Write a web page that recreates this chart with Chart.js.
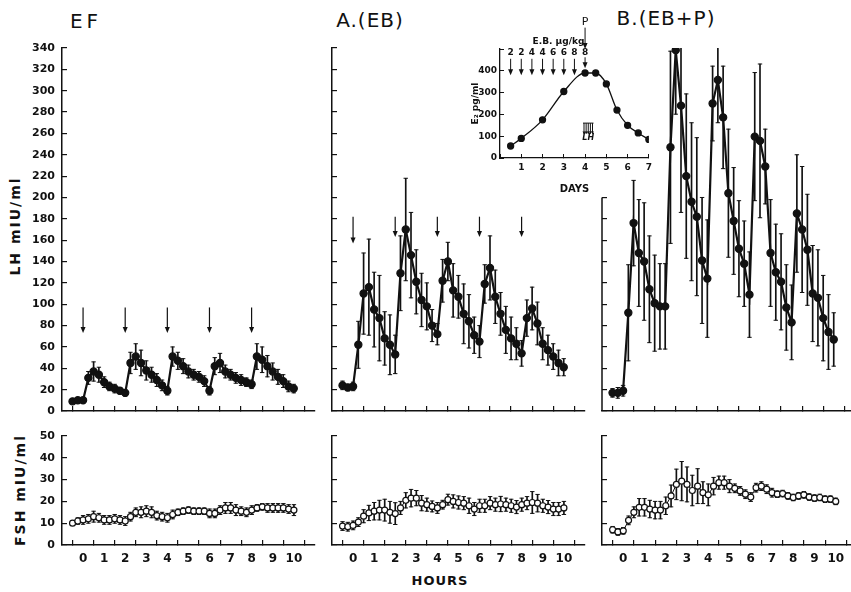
<!DOCTYPE html>
<html>
<head>
<meta charset="utf-8">
<script src="https://cdn.jsdelivr.net/npm/chart.js@4/dist/chart.umd.min.js"></script>
<style>
  body { margin: 0; width: 851px; height: 592px; overflow: hidden; background: #fff; position: relative; font-family: "DejaVu Sans", sans-serif; color: #111; }
  canvas { position: absolute; }
  .lbl { position: absolute; white-space: nowrap; transform: translate(-50%, -50%); }
  .title { font-size: 20px; letter-spacing: 1px; }
  .ylab { font-size: 14px; font-weight: bold; letter-spacing: 2px; transform: translate(-50%, -50%) rotate(-90deg); }
</style>
</head>
<body>
<div class="lbl title" style="left:86px;top:21px;letter-spacing:4px">EF</div>
<div class="lbl title" style="left:370px;top:20px">A.(EB)</div>
<div class="lbl title" style="left:666px;top:18px">B.(EB+P)</div>
<div class="lbl ylab" style="left:15px;top:226px">LH mIU/ml</div>
<div class="lbl ylab" style="left:20px;top:490px">FSH mIU/ml</div>
<div class="lbl" style="left:440px;top:580px;font-size:13px;font-weight:bold;letter-spacing:1px">HOURS</div>

<canvas id="lhEF" width="320" height="403" style="left:0px;top:28px"></canvas>
<canvas id="lhEB" width="270" height="403" style="left:320px;top:28px"></canvas>
<canvas id="lhEBP" width="270" height="403" style="left:590px;top:28px"></canvas>
<canvas id="fshEF" width="327" height="161" style="left:0px;top:416px"></canvas>
<canvas id="fshEB" width="277" height="161" style="left:320px;top:416px"></canvas>
<canvas id="fshEBP" width="279" height="161" style="left:590px;top:416px"></canvas>
<canvas id="inset" width="190" height="185" style="left:470px;top:10px"></canvas>

<script>
// sampling times (hours)
const hours = [-0.5, -0.25, 0, 0.25, 0.5, 0.75, 1, 1.25, 1.5, 1.75, 2, 2.25, 2.5, 2.75, 3, 3.25, 3.5, 3.75, 4,
  4.25, 4.5, 4.75, 5, 5.25, 5.5, 5.75, 6, 6.25, 6.5, 6.75, 7, 7.25, 7.5, 7.75, 8,
  8.25, 8.5, 8.75, 9, 9.25, 9.5, 9.75, 10];

// LH (mIU/ml)
const efLH = [9, 10, 10, 31, 37, 34, 27, 23, 21, 19, 17, 45, 51, 45, 38, 34, 29, 24, 19,
  51, 47, 42, 37, 34, 32, 28, 19, 42, 45, 37, 34, 31, 29, 27, 25, 51, 48, 42, 37, 32, 28, 23, 21];
const efLHsem = [2, 2, 2, 6, 9, 7, 5, 4, 4, 3, 3, 10, 12, 12, 9, 7, 6, 5, 4,
  9, 8, 7, 6, 5, 5, 5, 4, 8, 9, 6, 5, 5, 5, 4, 4, 12, 12, 10, 8, 7, 6, 5, 4];

const ebLH = [24, 22, 23, 62, 110, 116, 95, 87, 68, 62, 53, 129, 170, 146, 121, 104, 98, 80, 72,
  122, 140, 113, 107, 91, 84, 71, 65, 119, 134, 107, 91, 76, 68, 63, 54, 87, 96, 82, 63, 57, 51, 45, 41];
const ebLHsem = [4, 3, 4, 22, 38, 45, 35, 40, 25, 28, 18, 35, 48, 40, 30, 25, 22, 15, 10,
  20, 18, 25, 20, 28, 25, 17, 15, 18, 30, 25, 20, 22, 20, 15, 12, 17, 20, 20, 15, 14, 12, 12, 8];

const ebpLH = [17, 17, 19, 92, 176, 148, 140, 114, 101, 98, 98, 247, 338, 286, 220, 196, 182, 141, 124,
  288, 310, 275, 204, 178, 152, 138, 109, 257, 253, 229, 148, 130, 121, 97, 83, 185, 170, 151, 110, 106, 87, 74, 67];
const ebpLHsem = [4, 5, 5, 45, 40, 50, 55, 50, 45, 40, 40, 90, 60, 100, 77, 74, 74, 59, 55,
  35, 40, 48, 60, 50, 45, 40, 40, 60, 72, 35, 50, 45, 45, 40, 35, 55, 59, 52, 45, 45, 40, 35, 25];

// FSH (mIU/ml)
const efFSH = [10, 11, 11.5, 12, 13, 12.5, 11.5, 11.5, 12, 11.5, 11, 13, 15, 15, 15.5, 15, 13.5, 13, 12.5,
  14, 15, 15.5, 16, 15.5, 15.5, 15.5, 14.5, 14.5, 16, 17, 17, 16, 15.5, 15, 16, 17, 17.5, 17, 17, 17, 17, 16.5, 16];
const efFSHsem = [1, 1.5, 2, 2, 2.5, 2, 2, 2, 2, 2, 2, 2, 2, 2.5, 2.5, 2.5, 2, 2, 2,
  2, 1.5, 1.5, 1.5, 1.5, 1.5, 1.5, 2, 2, 2, 2.5, 2.5, 2.5, 2, 2, 2, 1.5, 1.5, 2, 2, 2, 2, 2, 2.5];

const ebFSH = [8.7, 8.4, 9, 10.5, 13.2, 14.7, 15.5, 16, 16, 15, 14.4, 17, 20.5, 21.5, 21.5, 19.2, 18.5, 17.7, 17,
  18.5, 20.8, 20, 19.5, 19.2, 18, 16.5, 18, 18, 19.2, 18.5, 18.8, 18.5, 18, 17.4, 18.5, 19.2, 19.5, 19.2, 18, 17.4, 16.5, 16.5, 17];
const ebFSHsem = [2, 2, 2, 2, 3, 3.5, 4, 4.5, 5, 5, 5, 3, 3.5, 4, 3.5, 3.5, 3, 2.5, 2.5,
  2, 2.5, 3, 3, 3, 3.5, 3, 3, 3, 3, 3, 3.5, 3, 3, 3, 3, 3, 5, 4, 3, 3, 3, 3, 3];

const ebpFSH = [7, 6, 6.5, 11.3, 15, 17.3, 17.3, 16.5, 16, 16, 18, 22.5, 27.8, 29.3, 27.8, 25, 27, 24, 23,
  27, 28.6, 28.6, 27, 26, 24.8, 23.3, 22, 26.3, 27, 25.6, 24, 23.3, 23.6, 22.5, 21.8, 22.5, 23, 22, 21.5, 21.8, 21, 21, 20];
const ebpFSHsem = [1.5, 1.5, 1.5, 2, 2.5, 4, 4, 4, 4, 4, 4, 5, 7, 9, 8, 7, 8, 5, 5,
  4, 3, 3, 3, 2, 2, 2, 2, 2, 2, 2, 2, 1.5, 1.5, 1.5, 1.5, 1.5, 1.5, 1.5, 1.5, 1.5, 1.5, 1.5, 1.5];

// injection times (hours)
const efPulseHours = [0, 2, 4, 6, 8];
const ebPulseHours = [0, 2, 4, 6, 8];

// inset: plasma E2 (pg/ml) over days
const e2Days = [0.5, 1, 2, 3, 4, 4.5, 5, 5.5, 6, 6.5, 7];
const e2Values = [55, 90, 175, 305, 390, 390, 340, 220, 150, 115, 85];
const doseDays = [0.5, 1, 1.5, 2, 2.5, 3, 3.5, 4];
const doseLabels = ["2", "2", "4", "4", "6", "6", "8", "8"];
const lhSurgeDays = [3.95, 4.05, 4.15, 4.25, 4.35];

const INK = "#111";
Chart.defaults.font.family = "'DejaVu Sans', sans-serif";
Chart.defaults.font.size = 11;
Chart.defaults.font.weight = "bold";
Chart.defaults.color = INK;

function drawArrow(ctx, x, yTop, yTip) {
  ctx.beginPath();
  ctx.moveTo(x, yTop);
  ctx.lineTo(x, yTip - 4);
  ctx.stroke();
  ctx.beginPath();
  ctx.moveTo(x - 2.5, yTip - 6);
  ctx.lineTo(x + 2.5, yTip - 6);
  ctx.lineTo(x, yTip);
  ctx.closePath();
  ctx.fill();
}

// arrows marking each injection
function pulseArrows(list) {
  return {
    id: "pulseArrows",
    afterDatasetsDraw(chart) {
      const { ctx, scales } = chart;
      ctx.save();
      ctx.strokeStyle = INK;
      ctx.fillStyle = INK;
      ctx.lineWidth = 1.2;
      list.forEach((a) => {
        drawArrow(ctx, scales.x.getPixelForValue(a.x), scales.y.getPixelForValue(a.from), scales.y.getPixelForValue(a.to));
      });
      ctx.restore();
    },
  };
}

// y axis line only drawn over the lower part (panel B)
function shortAxis(topValue) {
  return {
    id: "shortAxis",
    afterDraw(chart) {
      const { ctx, scales, chartArea } = chart;
      ctx.save();
      ctx.strokeStyle = INK;
      ctx.lineWidth = 1.5;
      ctx.beginPath();
      ctx.moveTo(chartArea.left, scales.y.getPixelForValue(0));
      ctx.lineTo(chartArea.left, scales.y.getPixelForValue(topValue));
      ctx.stroke();
      ctx.restore();
    },
  };
}

function panel(id, cfg) {
  const line = hours.map((h, i) => ({ x: h, y: cfg.values[i] }));
  const stems = hours.map((h, i) => ({ x: h, y: [cfg.values[i] - cfg.sem[i], cfg.values[i] + cfg.sem[i]] }));
  const caps = [];
  hours.forEach((h, i) => {
    caps.push({ x: h, y: cfg.values[i] + cfg.sem[i] });
    caps.push({ x: h, y: cfg.values[i] - cfg.sem[i] });
  });

  new Chart(document.getElementById(id), {
    type: "line",
    data: {
      datasets: [
        {
          type: "line",
          data: line,
          borderColor: INK,
          borderWidth: cfg.lineWidth,
          pointRadius: cfg.pointRadius,
          pointBackgroundColor: cfg.open ? "#fff" : INK,
          pointBorderColor: INK,
          pointBorderWidth: 1.2,
          order: 0,
        },
        {
          type: "line",
          data: caps,
          showLine: false,
          pointStyle: "line",
          pointRadius: 2.2,
          pointBorderColor: INK,
          pointBorderWidth: 1,
          order: 1,
        },
        {
          type: "bar",
          data: stems,
          backgroundColor: INK,
          barThickness: 1,
          grouped: false,
          order: 2,
        },
      ],
    },
    options: {
      responsive: false,
      animation: false,
      events: [],
      layout: { padding: { top: 20, right: cfg.padRight, left: 0, bottom: 0 } },
      plugins: { legend: { display: false }, tooltip: { enabled: false } },
      scales: {
        x: {
          type: "linear",
          min: -1,
          max: 11,
          offset: false,
          ticks: {
            stepSize: 1,
            display: cfg.xLabels,
            autoSkip: false,
            maxRotation: 0,
            minRotation: 0,
            padding: 12,
            font: { size: 12 },
            callback: (v) => (v < 0 || v > 10 ? "" : v),
          },
          grid: { drawOnChartArea: false, tickLength: -5, color: INK, lineWidth: 1.2 },
          border: { color: INK, width: 1.5 },
          afterFit: (s) => { s.height = cfg.xHeight; },
        },
        y: {
          min: 0,
          max: cfg.yMax,
          ticks: { stepSize: cfg.yStep, display: cfg.yLabels, padding: 12 },
          grid: {
            drawOnChartArea: false,
            tickLength: -5,
            lineWidth: 1.2,
            color: (c) => (cfg.axisTop === undefined || c.tick.value <= cfg.axisTop ? INK : "rgba(0,0,0,0)"),
          },
          border: { display: cfg.axisTop === undefined, color: INK, width: 1.5 },
          afterFit: (s) => { s.width = cfg.yWidth; },
        },
      },
    },
    plugins: [pulseArrows(cfg.arrows || [])].concat(cfg.axisTop !== undefined ? [shortAxis(cfg.axisTop)] : []),
  });
}

const lhBase = { yMax: 340, yStep: 20, lineWidth: 2.2, pointRadius: 3.6, open: false, xHeight: 20, xLabels: false };
const fshBase = { yMax: 50, yStep: 10, lineWidth: 1, pointRadius: 3, open: true, xHeight: 32, xLabels: true, padRight: 12 };

panel("lhEF", Object.assign({}, lhBase, {
  values: efLH, sem: efLHsem, yLabels: true, yWidth: 62, padRight: 5,
  arrows: efPulseHours.map((h) => ({ x: h, from: 97, to: 73 })),
}));
panel("lhEB", Object.assign({}, lhBase, {
  values: ebLH, sem: ebLHsem, yLabels: false, yWidth: 12, padRight: 5,
  arrows: ebPulseHours.map((h, i) => ({ x: h, from: 182, to: i === 0 ? 157 : 163 })),
}));
panel("lhEBP", Object.assign({}, lhBase, {
  values: ebpLH, sem: ebpLHsem, yLabels: false, yWidth: 12, padRight: 3, axisTop: 200,
}));
panel("fshEF", Object.assign({}, fshBase, { values: efFSH, sem: efFSHsem, yLabels: true, yWidth: 62 }));
panel("fshEB", Object.assign({}, fshBase, { values: ebFSH, sem: ebFSHsem, yLabels: false, yWidth: 12 }));
panel("fshEBP", Object.assign({}, fshBase, { values: ebpFSH, sem: ebpFSHsem, yLabels: false, yWidth: 12 }));

// inset annotations: dose arrows, progesterone, LH surge
const insetNotes = {
  id: "insetNotes",
  afterDatasetsDraw(chart) {
    const { ctx, scales: { x, y } } = chart;
    ctx.save();
    ctx.strokeStyle = INK;
    ctx.fillStyle = INK;
    ctx.lineWidth = 1;
    ctx.textAlign = "center";
    ctx.textBaseline = "middle";
    ctx.font = "bold 9px 'DejaVu Sans'";
    doseDays.forEach((d, i) => {
      const px = x.getPixelForValue(d);
      ctx.fillText(doseLabels[i], px, y.getPixelForValue(484));
      if (i === doseDays.length - 1) {
        drawArrow(ctx, px, y.getPixelForValue(462), y.getPixelForValue(412));
      } else {
        drawArrow(ctx, px, y.getPixelForValue(455), y.getPixelForValue(380));
      }
    });
    const p4 = x.getPixelForValue(4);
    ctx.font = "11px 'DejaVu Sans'";
    ctx.fillText("P", p4, y.getPixelForValue(625));
    drawArrow(ctx, p4, y.getPixelForValue(598), y.getPixelForValue(500));
    ctx.font = "bold 9px 'DejaVu Sans'";
    ctx.fillText("E.B. \u03bcg/kg", x.getPixelForValue(2.75), y.getPixelForValue(535));
    // LH surge
    const top = y.getPixelForValue(160);
    ctx.beginPath();
    ctx.moveTo(x.getPixelForValue(lhSurgeDays[0]) - 1, top);
    ctx.lineTo(x.getPixelForValue(lhSurgeDays[lhSurgeDays.length - 1]) + 1, top);
    ctx.stroke();
    lhSurgeDays.forEach((d) => {
      const px = x.getPixelForValue(d);
      ctx.beginPath();
      ctx.moveTo(px, top);
      ctx.lineTo(px, y.getPixelForValue(112));
      ctx.stroke();
      ctx.beginPath();
      ctx.moveTo(px - 1.5, y.getPixelForValue(122));
      ctx.lineTo(px + 1.5, y.getPixelForValue(122));
      ctx.lineTo(px, y.getPixelForValue(110));
      ctx.fill();
    });
    ctx.font = "italic bold 8px 'DejaVu Sans'";
    ctx.fillText("LH", x.getPixelForValue(4.15), y.getPixelForValue(94));
    ctx.restore();
  },
};

new Chart(document.getElementById("inset"), {
  type: "line",
  data: {
    datasets: [{
      data: e2Days.map((d, i) => ({ x: d, y: e2Values[i] })),
      borderColor: INK,
      borderWidth: 1.3,
      cubicInterpolationMode: "monotone",
      pointRadius: 3,
      pointBackgroundColor: INK,
      pointBorderColor: INK,
    }],
  },
  options: {
    responsive: false,
    animation: false,
    events: [],
    layout: { padding: { top: 39, right: 11, left: 0, bottom: 0 } },
    plugins: { legend: { display: false }, tooltip: { enabled: false } },
    scales: {
      x: {
        type: "linear",
        min: 0,
        max: 7,
        ticks: { stepSize: 1, padding: 8, autoSkip: false, maxRotation: 0, font: { size: 9 }, callback: (v) => (v === 0 ? "" : v) },
        grid: { drawOnChartArea: false, tickLength: -4, color: INK },
        border: { color: INK, width: 1.3 },
        title: { display: true, text: "DAYS", font: { size: 10, weight: "bold" }, padding: { top: 0, bottom: 0 } },
        afterFit: (s) => { s.height = 37; },
      },
      y: {
        min: 0,
        max: 500,
        ticks: { stepSize: 100, padding: 7, font: { size: 9 }, callback: (v) => (v === 500 ? "" : v) },
        grid: { drawOnChartArea: false, tickLength: -4, color: INK },
        border: { color: INK, width: 1.3 },
        title: { display: true, text: "E\u2082 pg/ml", font: { size: 9, weight: "bold" }, padding: { top: 0, bottom: 0 } },
        afterFit: (s) => { s.width = 30; },
      },
    },
  },
  plugins: [insetNotes],
});
</script>
</body>
</html>
